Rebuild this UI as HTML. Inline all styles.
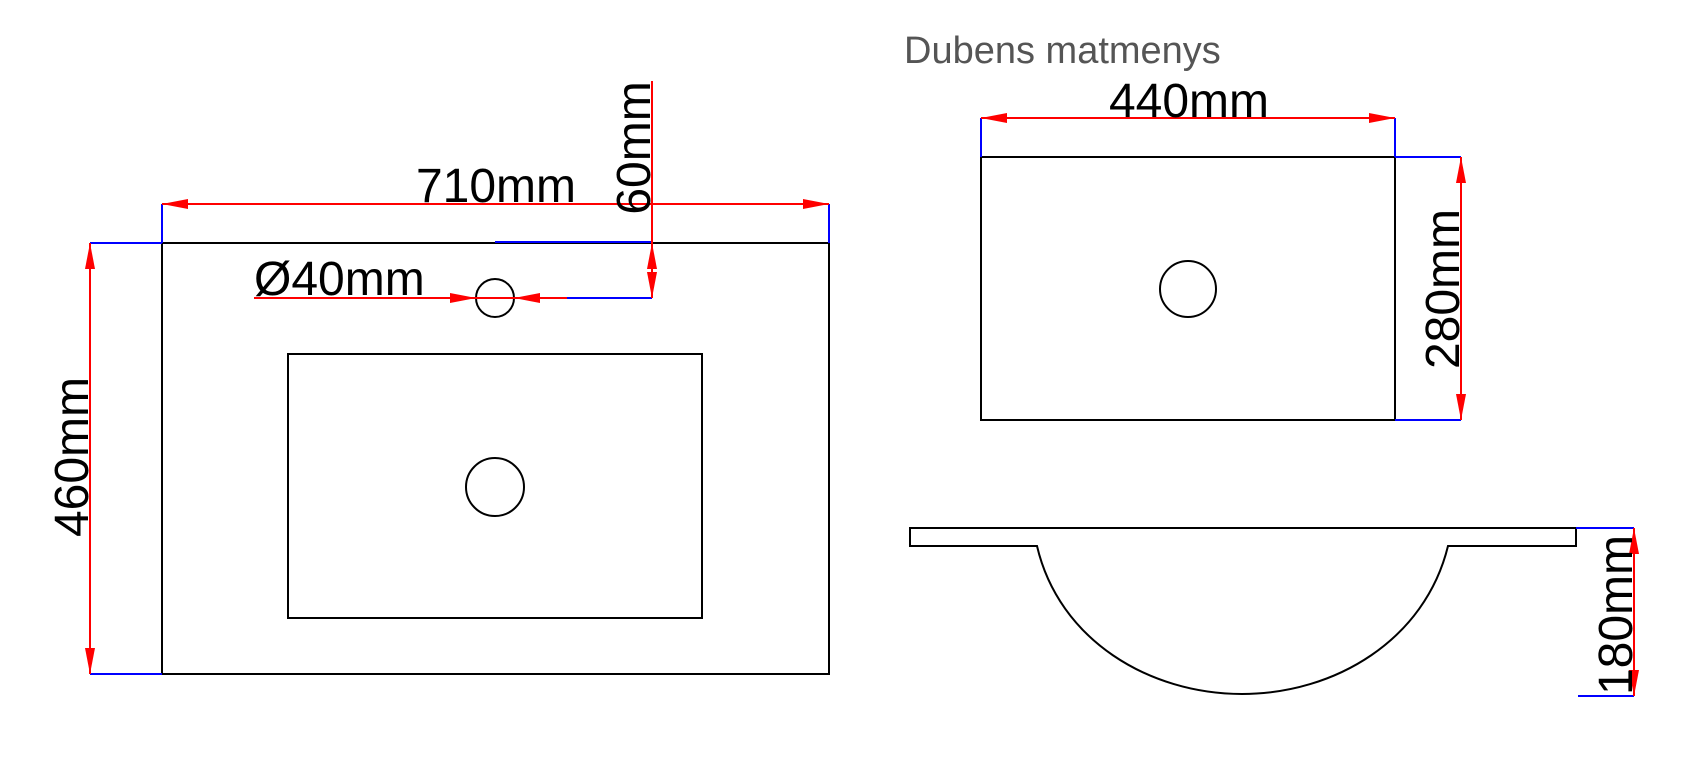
<!DOCTYPE html>
<html><head><meta charset="utf-8"><style>
html,body{margin:0;padding:0;background:#fff;}
svg{display:block;}
text{font-family:"Liberation Sans",sans-serif;}
</style></head><body>
<svg width="1692" height="760" viewBox="0 0 1692 760" xmlns="http://www.w3.org/2000/svg">
<defs>
<marker id="a" viewBox="0 0 26 10" refX="26" refY="5" markerWidth="26" markerHeight="10" markerUnits="userSpaceOnUse" orient="auto-start-reverse">
<path d="M0,0 L26,5 L0,10 Z" fill="#f00"/></marker>
</defs>
<g fill="none" stroke="#000" stroke-width="2">
<rect x="162" y="243" width="667" height="431"/>
<rect x="288" y="354" width="414" height="264"/>
<circle cx="495" cy="487" r="29"/>
<circle cx="495" cy="298" r="19"/>
<rect x="981" y="157" width="414" height="263"/>
<circle cx="1188" cy="289" r="28"/>
<path d="M910,528 H1576 V546 H1448 C1425,640 1335,694 1242,694 C1149,694 1059,640 1037,546 H910 Z"/>
</g>
<g stroke="#00f" stroke-width="2" fill="none">
<path d="M162,204 V243 M829,204 V243 M90,243 H162 M90,674 H162 M495,242 H652 M567,298 H652"/>
<path d="M981,118 V157 M1395,118 V157 M1395,157 H1461 M1395,420 H1461"/>
<path d="M1576,528 H1634 M1578,696 H1634"/>
</g>
<g stroke="#f00" stroke-width="2" fill="none">
<line x1="162" y1="204" x2="829" y2="204" marker-start="url(#a)" marker-end="url(#a)"/>
<line x1="90" y1="243" x2="90" y2="674" marker-start="url(#a)" marker-end="url(#a)"/>
<line x1="652" y1="81" x2="652" y2="243"/>
<line x1="652" y1="243" x2="652" y2="298" marker-start="url(#a)" marker-end="url(#a)"/>
<line x1="254" y1="298" x2="476" y2="298" marker-end="url(#a)"/>
<line x1="567" y1="298" x2="514" y2="298" marker-end="url(#a)"/>
<line x1="476" y1="298" x2="514" y2="298"/>
<line x1="981" y1="118" x2="1395" y2="118" marker-start="url(#a)" marker-end="url(#a)"/>
<line x1="1461" y1="157" x2="1461" y2="420" marker-start="url(#a)" marker-end="url(#a)"/>
<line x1="1634" y1="528" x2="1634" y2="696" marker-start="url(#a)" marker-end="url(#a)"/>
</g>
<g fill="#000" font-size="48">
<text x="496" y="202" text-anchor="middle">710mm</text>
<text x="254" y="295">Ø40mm</text>
<text transform="translate(650,148) rotate(-90)" text-anchor="middle">60mm</text>
<text transform="translate(88,457) rotate(-90)" text-anchor="middle">460mm</text>
<text x="1189" y="117" text-anchor="middle">440mm</text>
<text transform="translate(1459,289) rotate(-90)" text-anchor="middle">280mm</text>
<text transform="translate(1632,615) rotate(-90)" text-anchor="middle">180mm</text>
</g>
<text x="904" y="63" font-size="38" fill="#555">Dubens matmenys</text>
</svg>
</body></html>
